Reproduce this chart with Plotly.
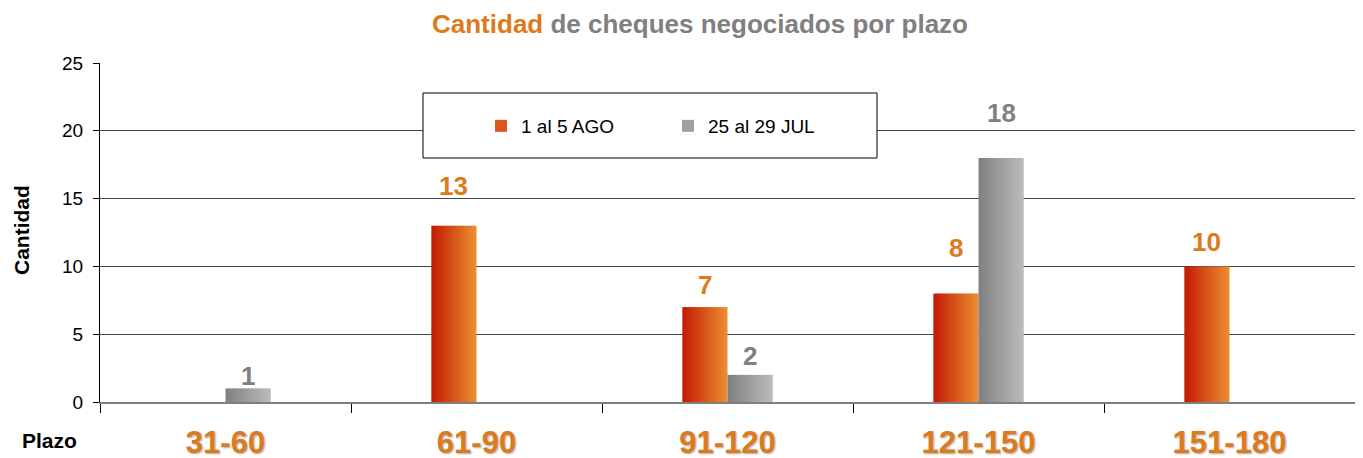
import plotly.graph_objects as go

# ---------------- data ----------------
categories = ["31-60", "61-90", "91-120", "121-150", "151-180"]
series_names = ["1 al 5 AGO", "25 al 29 JUL"]
ago_values = [None, 13, 7, 8, 10]
jul_values = [1, None, 2, 18, None]
y_ticks = [0, 5, 10, 15, 20, 25]

# label lift above bar top (px) – style only
ago_label_lift = [0, 40, 22, 46, 24]
jul_label_lift = [12, 0, 19, 45, 0]

# ---------------- style ----------------
W, H = 1363, 458
PAGE_OFF = 8  # default body margin of the html page
# plot area in page pixels
PX0, PX1, PY0, PY1 = 100, 1355, 63, 402
ML = PX0 - PAGE_OFF
MR = W - (PX1 - PAGE_OFF)
MT = PY0 - PAGE_OFF
MB = H - (PY1 - PAGE_OFF)
plot_w = PX1 - PX0
plot_h = PY1 - PY0


def px_x(p):
    return (p - PX0) / plot_w


def px_y(p):
    return (PY1 - p) / plot_h


FONT = "Liberation Sans, Arial, sans-serif"
ORANGE_TXT = "#DD7A1B"
GRAY_TXT = "#808080"
BAR_W = 0.18
N_SLICES = 14


def hex2rgb(h):
    h = h.lstrip("#")
    return tuple(int(h[i:i + 2], 16) for i in (0, 2, 4))


def lerp(c1, c2, t):
    a, b = hex2rgb(c1), hex2rgb(c2)
    return "rgb(%d,%d,%d)" % tuple(round(a[k] + (b[k] - a[k]) * t) for k in range(3))


series = [
    dict(name=series_names[0], values=ago_values, left="#C41E06", right="#EA8B30",
         side=-1, lift=ago_label_lift, tcolor=ORANGE_TXT),
    dict(name=series_names[1], values=jul_values, left="#828282", right="#B9B9B9",
         side=1, lift=jul_label_lift, tcolor=GRAY_TXT),
]

fig = go.Figure()
step = BAR_W / N_SLICES
for s in series:
    for i in range(N_SLICES):
        t = i / (N_SLICES - 1)
        col = lerp(s["left"], s["right"], t)
        start = -BAR_W if s["side"] < 0 else 0.0
        w = step * 1.35 if i < N_SLICES - 1 else step
        fig.add_trace(go.Bar(
            x=categories, y=s["values"], name=s["name"],
            legendgroup=s["name"], showlegend=(i == N_SLICES // 2),
            offset=start + i * step, width=w,
            marker=dict(color=col, line=dict(width=0)),
            hoverinfo="skip",
        ))

# value labels
bar_px = BAR_W * plot_w / len(categories)
annotations = []
for s in series:
    for c, v, lift in zip(categories, s["values"], s["lift"]):
        if v is None:
            continue
        annotations.append(dict(
            x=c, y=v, xref="x", yref="y", text="<b>%d</b>" % v, showarrow=False,
            xanchor="center", yanchor="middle", xshift=s["side"] * bar_px / 2,
            yshift=lift, font=dict(family=FONT, size=26, color=s["tcolor"]),
        ))

# axis titles
annotations.append(dict(
    text="<b>Cantidad</b>", xref="paper", yref="paper", x=px_x(22), y=px_y(230),
    textangle=-90, showarrow=False, xanchor="center", yanchor="middle",
    font=dict(family=FONT, size=21, color="black"),
))
annotations.append(dict(
    text="<b>Plazo</b>", xref="paper", yref="paper", x=px_x(49), y=px_y(440),
    showarrow=False, xanchor="center", yanchor="middle",
    font=dict(family=FONT, size=21, color="black"),
))

# legend frame
shapes = [dict(
    type="rect", xref="paper", yref="paper",
    x0=px_x(423), x1=px_x(877), y0=px_y(158), y1=px_y(93),
    fillcolor="white", line=dict(color="black", width=1), layer="above",
)]

fig.update_layout(
    width=W, height=H,
    margin=dict(l=ML, r=MR, t=MT, b=MB, autoexpand=False),
    paper_bgcolor="white", plot_bgcolor="white",
    barmode="overlay",
    title=dict(
        text="<b><span style='color:%s'>Cantidad</span> de cheques negociados por plazo</b>" % ORANGE_TXT,
        x=(700 - PAGE_OFF) / W, xref="container", xanchor="center",
        y=1 - (24 - PAGE_OFF) / H, yref="container", yanchor="middle",
        font=dict(family=FONT, size=26, color=GRAY_TXT),
    ),
    legend=dict(
        orientation="h", x=px_x(481), xanchor="left",
        y=px_y(126), yanchor="middle",
        bgcolor="rgba(0,0,0,0)", borderwidth=0,
        entrywidth=142, entrywidthmode="pixels",
        font=dict(family=FONT, size=19, color="black"),
        traceorder="normal",
    ),
    annotations=annotations,
    shapes=shapes,
    showlegend=True,
)

fig.update_xaxes(
    type="category", categoryorder="array", categoryarray=categories,
    showgrid=False, showline=True, linecolor="#7f7f7f", linewidth=1.5,
    ticks="outside", tickson="boundaries", ticklen=9, tickcolor="black",
    tickfont=dict(family=FONT, size=31, color=ORANGE_TXT, weight="bold",
                  shadow="1px 1px 2px rgba(0,0,0,0.35)"),
    ticklabelstandoff=12,
    fixedrange=True,
)
fig.update_yaxes(
    range=[0, 25], tickvals=y_ticks, ticktext=[str(v) for v in y_ticks],
    showgrid=True, gridcolor="#444444", gridwidth=1,
    zeroline=False,
    showline=True, linecolor="black", linewidth=1,
    ticks="outside", ticklen=6, tickcolor="black",
    tickfont=dict(family=FONT, size=19, color="black"),
    ticklabelstandoff=6,
    fixedrange=True,
)

fig.write_html("out.html")
